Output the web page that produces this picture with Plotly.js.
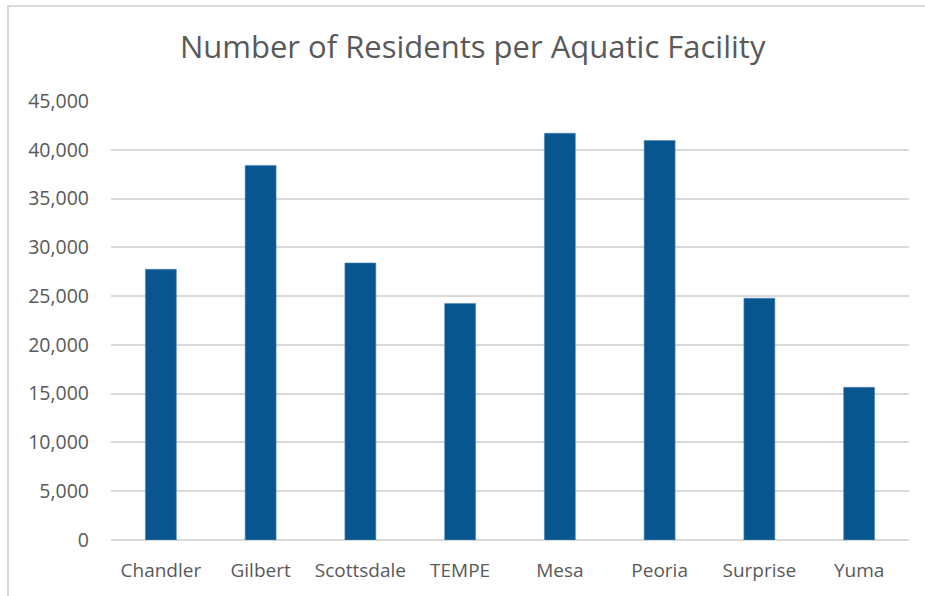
<!DOCTYPE html>
<html>
<head>
<meta charset="utf-8">
<script src="https://cdn.plot.ly/plotly-3.0.1.min.js"></script>
<style>
html,body{margin:0;padding:0;background:#fff;overflow:hidden;}
#frame{position:absolute;left:7px;top:5px;width:1200px;height:1200px;border-left:2px solid #d9d9d9;border-top:2px solid #d9d9d9;box-sizing:border-box;}
#chart{position:absolute;left:0;top:0;width:925px;height:596px;}
</style>
</head>
<body>
<div id="frame"></div>
<div id="chart"></div>
<script>
const cities = ["Chandler","Gilbert","Scottsdale","TEMPE","Mesa","Peoria","Surprise","Yuma"];
const residentsPerFacility = [27750, 38400, 28400, 24250, 41700, 40950, 24780, 15650];
const yTickValues = [0,5000,10000,15000,20000,25000,30000,35000,40000,45000];
const yTickLabels = ["0","5,000","10,000","15,000","20,000","25,000","30,000","35,000","40,000","45,000"];

const fontFam = "Open Sans, Noto Sans, sans-serif";
const trace = {
  type: "bar",
  x: cities,
  y: residentsPerFacility,
  marker: {color: "#08568f", line: {color: "#4f86b8", width: 0.6}},
  hoverinfo: "x+y"
};
const layout = {
  width: 925, height: 596,
  margin: {l: 111, r: 16, t: 101, b: 56},
  paper_bgcolor: "rgba(0,0,0,0)",
  plot_bgcolor: "rgba(0,0,0,0)",
  title: {text: "Number of Residents per Aquatic Facility", x: 0.511, xanchor: "center", y: 0.921, yanchor: "middle",
          font: {family: fontFam, size: 31, color: "#595959"}},
  bargap: 0.69,
  showlegend: false,
  xaxis: {
    type: "category",
    showgrid: false, zeroline: false, showline: false,
    ticks: "", ticklabelstandoff: 17,
    tickfont: {family: fontFam, size: 19, color: "#595959"}
  },
  yaxis: {
    range: [0, 45000],
    tickvals: yTickValues, ticktext: yTickLabels,
    showgrid: true, gridcolor: "#d9d9d9", gridwidth: 2,
    zeroline: true, zerolinecolor: "#d9d9d9", zerolinewidth: 2,
    showline: false, ticks: "", ticklabelstandoff: 21,
    tickfont: {family: fontFam, size: 19.5, color: "#595959"}
  }
};
Plotly.newPlot("chart", [trace], layout, {displayModeBar: false, staticPlot: true});
</script>
</body>
</html>
